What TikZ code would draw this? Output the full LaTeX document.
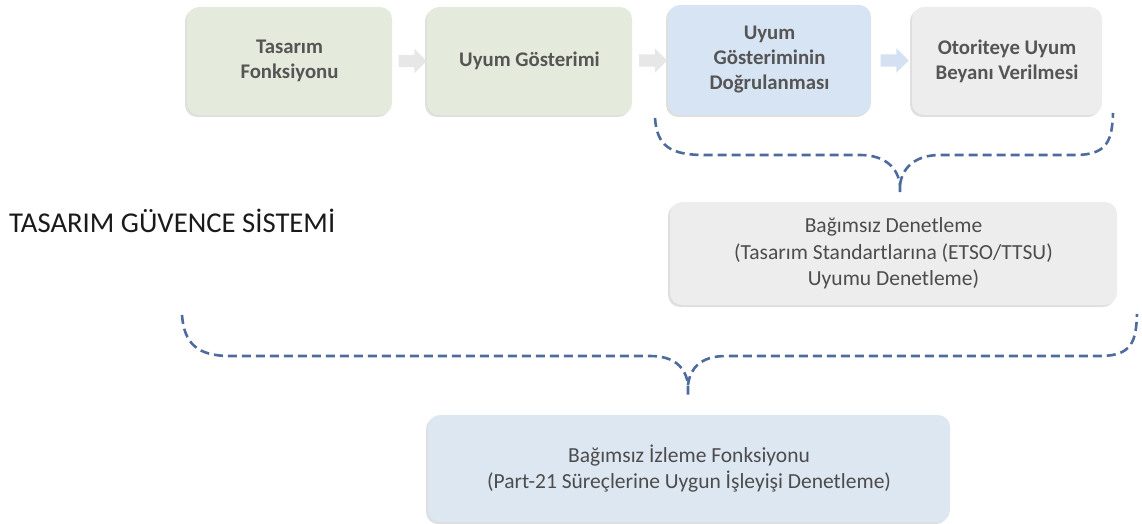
\documentclass[tikz,border=0pt]{standalone}
\usepackage{fontspec}
\setmainfont{Carlito}
\usetikzlibrary{shapes.arrows,shadows,calc}
\definecolor{txtgray}{HTML}{555555}
\definecolor{titlecol}{HTML}{1A1A1A}
\definecolor{greenbox}{HTML}{E4EBDC}
\definecolor{bluebox}{HTML}{D7E4F4}
\definecolor{graybox}{HTML}{EDEDED}
\definecolor{monbox}{HTML}{DDE7F1}
\definecolor{bracecol}{HTML}{4E6B9E}
\definecolor{arrowgray}{HTML}{E7E7E7}
\definecolor{arrowblue}{HTML}{D4E1F2}
\tikzset{
  procbox/.style={rounded corners=12pt, align=center, text=txtgray,
    font=\bfseries\fontsize{20.8}{25}\selectfont,
    drop shadow={shadow xshift=-2pt, shadow yshift=-2pt, opacity=0.25, fill=gray}},
  auditbox/.style={procbox, text=txtgray!90!black, font=\fontsize{21.5}{26.5}\selectfont},
  flowarrow/.style={single arrow, single arrow head extend=6pt,
    minimum height=28pt, inner sep=6pt, draw=none},
  bracepath/.style={draw=bracecol, line width=2.6pt, dash pattern=on 9pt off 5pt},
}
\begin{document}
\begin{tikzpicture}[x=1pt,y=-1pt]
\useasboundingbox (0,0) rectangle (1142,524);

% process chain
\node[procbox, fill=greenbox, minimum width=205pt, minimum height=108pt] (tf) at (289.5,61) {Tasarım\\Fonksiyonu};
\node[procbox, fill=greenbox, minimum width=205pt, minimum height=108pt] (ug) at (529.5,61) {Uyum Gösterimi};
\node[procbox, fill=bluebox, minimum width=203pt, minimum height=110pt] (ud) at (769.5,60) {Uyum\\Gösteriminin\\Doğrulanması};
\node[procbox, fill=graybox, minimum width=190pt, minimum height=108pt] (ob) at (1007,61) {Otoriteye Uyum\\Beyanı Verilmesi};

% block arrows between the steps
\node[flowarrow, fill=arrowgray] (a1) at ($(tf.east)!0.5!(ug.west)$) {};
\node[flowarrow, fill=arrowgray] (a2) at ($(ug.east)!0.5!(ud.west)$) {};
\node[flowarrow, fill=arrowblue] (a3) at ($(ud.east)!0.5!(ob.west)$) {};

% title
\node[anchor=west, text=titlecol, font=\fontsize{28.7}{34}\selectfont, inner sep=0pt] (title) at (9,221) {TASARIM GÜVENCE SİSTEMİ};

% audit boxes
\node[auditbox, fill=graybox, minimum width=447pt, minimum height=103pt] (bd) at (893.5,253.5)
  {Bağımsız Denetleme\\(Tasarım Standartlarına (ETSO/TTSU)\\Uyumu Denetleme)};
\node[auditbox, fill=monbox, minimum width=522pt, minimum height=107pt] (bi) at (689,468.5)
  {Bağımsız İzleme Fonksiyonu\\(Part-21 Süreçlerine Uygun İşleyişi Denetleme)};

% brace over verification + declaration, pointing to the audit
\coordinate (b1l) at (655,118);
\coordinate (b1r) at (1113,113);
\coordinate (b1t) at (900,197);
\draw[bracepath] (b1l) .. controls (657,146) and (670,155) .. (705,155) -- (860,155)
  .. controls (885,155) and (898,168) .. (900,185) -- (b1t);
\draw[bracepath] (900,185) .. controls (902,168) and (915,155) .. (940,155) -- (1075,155)
  .. controls (1108,155) and (1112,140) .. (b1r);

% brace over the whole system, pointing to independent monitoring
\coordinate (b2l) at (182,315);
\coordinate (b2r) at (1137,314);
\coordinate (b2t) at (688,397);
\draw[bracepath] (b2l) .. controls (184,343) and (197,356) .. (230,356) -- (650,356)
  .. controls (675,356) and (686,368) .. (688,385) -- (b2t);
\draw[bracepath] (688,385) .. controls (690,368) and (701,356) .. (726,356) -- (1100,356)
  .. controls (1133,356) and (1136,340) .. (b2r);
\end{tikzpicture}
\end{document}
